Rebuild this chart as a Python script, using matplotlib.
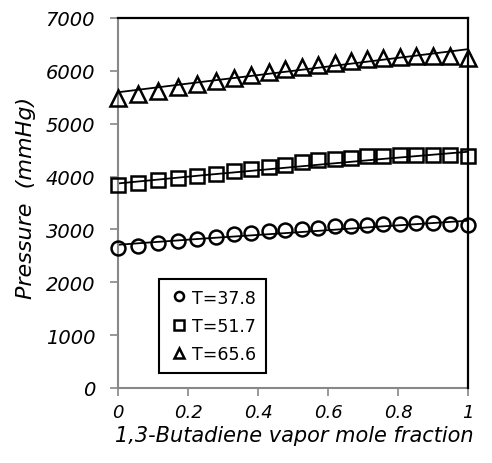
import matplotlib
matplotlib.use("Agg")
import matplotlib.pyplot as plt
from matplotlib.lines import Line2D

# ---- data ----
x_vap = [0.0, 0.057, 0.115, 0.172, 0.227, 0.280, 0.330, 0.381, 0.430, 0.478,
         0.527, 0.572, 0.620, 0.667, 0.712, 0.758, 0.805, 0.852, 0.901, 0.949, 1.0]
p_378 = [2650, 2695, 2743, 2781, 2825, 2863, 2905, 2940, 2972, 2995,
         3010, 3035, 3058, 3071, 3080, 3100, 3108, 3115, 3115, 3105, 3090]
p_517 = [3835, 3882, 3932, 3977, 4017, 4058, 4102, 4143, 4184, 4228,
         4270, 4305, 4335, 4360, 4380, 4395, 4402, 4410, 4412, 4400, 4385]
p_656 = [5490, 5565, 5625, 5688, 5750, 5808, 5865, 5925, 5972, 6030,
         6067, 6111, 6150, 6185, 6215, 6245, 6265, 6280, 6285, 6285, 6250]

x_model = [0.0, 0.25, 0.5, 0.75, 1.0]
m_378 = [2710, 2830, 2940, 3055, 3165]
m_517 = [3870, 4030, 4180, 4330, 4470]
m_656 = [5595, 5800, 6000, 6205, 6410]

labels = ["T=37.8", "T=51.7", "T=65.6"]
x_ticks = [0, 0.2, 0.4, 0.6, 0.8, 1]
x_ticklabels = ["0", "0.2", "0.4", "0.6", "0.8", "1"]
y_ticks = [0, 1000, 2000, 3000, 4000, 5000, 6000, 7000]

plt.rcParams['font.family'] = ['DejaVu Sans']

fig = plt.figure(figsize=(4.92, 4.64), dpi=100)
ax = fig.add_axes([118/492, 1 - 389/464, 350/492, 370/464])

markers = ['o', 's', '^']
sizes = [10, 9.5, 11]
for xs, ps, xm, pm, mk, ms in zip([x_vap]*3, [p_378, p_517, p_656],
                                  [x_model]*3, [m_378, m_517, m_656],
                                  markers, sizes):
    ax.plot(xm, pm, color='black', lw=1.3, zorder=2, clip_on=False)
    ax.plot(xs, ps, linestyle='none', marker=mk, markersize=ms,
            markerfacecolor='none', markeredgecolor='black',
            markeredgewidth=1.8, zorder=3, clip_on=False)

ax.set_xlim(0, 1)
ax.set_ylim(0, 7000)
ax.set_xticks(x_ticks)
ax.set_xticklabels(x_ticklabels)
ax.set_yticks(y_ticks)

for s in ['left', 'bottom']:
    ax.spines[s].set_color('#888888')
    ax.spines[s].set_linewidth(1.5)
for s in ['top', 'right']:
    ax.spines[s].set_color('black')
    ax.spines[s].set_linewidth(1.6)
    ax.spines[s].set_zorder(5)

ax.tick_params(axis='both', direction='out', length=5.5, width=1.2,
               color='#888888', labelsize=14)
ax.tick_params(axis='y', pad=11)
ax.tick_params(axis='x', pad=5.5, labelsize=13)
for lab in ax.get_xticklabels() + ax.get_yticklabels():
    lab.set_fontstyle('italic')

ax.set_xlabel("1,3-Butadiene vapor mole fraction", fontsize=15,
              fontstyle='italic', va='top')
ax.xaxis.set_label_coords(0.503, (389 - 426.5) / 370)
ax.set_ylabel("Pressure  (mmHg)", fontsize=16, fontstyle='italic')
ax.yaxis.set_label_coords((36 - 118) / 350, (389 - 198) / 370)

handles = [Line2D([], [], linestyle='none', marker=m, markersize=6.5,
                  markerfacecolor='none', markeredgecolor='black',
                  markeredgewidth=1.8) for m in markers]
leg = ax.legend(handles, labels, loc='upper left',
                bbox_to_anchor=(41/350, (389-280)/370), borderaxespad=0,
                fancybox=False, edgecolor='black', framealpha=1,
                fontsize=12.5, handlelength=1.2, handletextpad=0.15,
                labelspacing=0.6, borderpad=0.55)
leg.get_frame().set_linewidth(1.5)

fig.savefig("out.png", dpi=100)
